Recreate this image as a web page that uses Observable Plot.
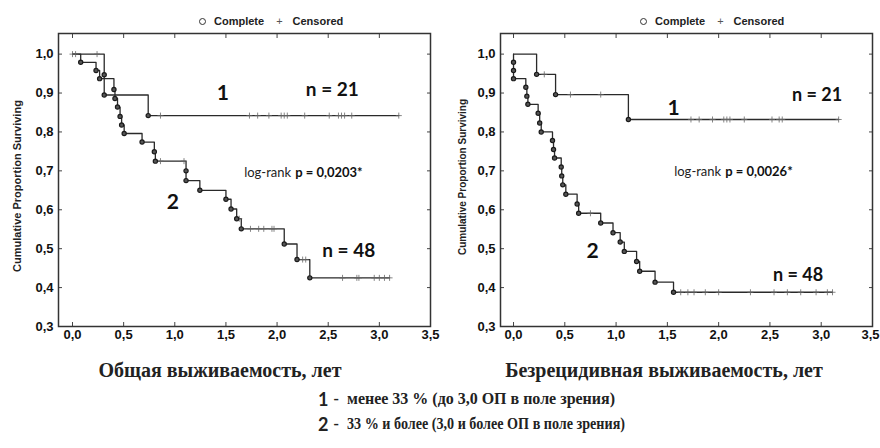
<!DOCTYPE html>
<html><head><meta charset="utf-8">
<script src="https://cdn.jsdelivr.net/npm/d3@7"></script>
<script src="https://cdn.jsdelivr.net/npm/@observablehq/plot@0.6"></script>
<style>
body{margin:0;background:#fff;}
#wrap{position:relative;width:880px;height:448px;overflow:hidden;font-family:"Liberation Sans",Arial,sans-serif;color:#222;}
.abs{position:absolute;white-space:nowrap;}
.panel{position:absolute;top:0;}
.ylab{font-weight:bold;transform:translate(-50%,-50%) rotate(-90deg);}
.xlab{font-family:"Liberation Serif","Times New Roman",serif;font-weight:bold;font-size:20px;transform:translate(-50%,-50%);}
.leg{font-size:11px;font-weight:bold;transform:translateY(-50%);display:flex;align-items:center;}
.circ{display:inline-block;width:5px;height:5px;border:1.2px solid #333;border-radius:50%;margin-right:8px;}
.plus{display:inline-block;margin:0 10px 0 12px;font-weight:normal;color:#555;}
.note{transform:translateY(-50%);display:flex;align-items:center;}
.note b{font-family:Lato,"Liberation Sans",sans-serif;font-size:18px;font-weight:bold;}
.note .dash{font-family:"Liberation Serif",serif;font-weight:bold;font-size:16px;margin:0 8px 0 5px;}
.note .desc{font-family:"Liberation Serif","Times New Roman",serif;font-weight:bold;font-size:17px;display:inline-block;transform-origin:left center;}
</style></head><body><div id="wrap"></div><script>
// ---------- data ----------
const xTicks = [0, 0.5, 1, 1.5, 2, 2.5, 3, 3.5];
const yTicks = [0.3, 0.4, 0.5, 0.6, 0.7, 0.8, 0.9, 1.0];
const groupNames = ["1", "2"];

// Overall survival (left panel) — group 1 (n = 21)
const osG1Time   = [0.00, 0.03, 0.24, 0.31, 0.31, 0.74, 0.86, 1.73, 1.81, 1.92, 2.04, 2.07, 2.10, 2.27, 2.51, 2.60, 2.63, 2.66, 2.73, 3.19];
const osG1Surv   = [1.000, 1.000, 1.000, 0.947, 0.895, 0.842, 0.842, 0.842, 0.842, 0.842, 0.842, 0.842, 0.842, 0.842, 0.842, 0.842, 0.842, 0.842, 0.842, 0.842];
const osG1Status = [0, 0, 0, 1, 1, 1, 0, 0, 0, 0, 0, 0, 0, 0, 0, 0, 0, 0, 0, 0];
// Overall survival — group 2 (n = 48)
const osG2Time   = [0.08, 0.23, 0.265, 0.405, 0.415, 0.44, 0.465, 0.48, 0.505, 0.68, 0.80, 0.81, 0.86, 1.09, 1.11, 1.11, 1.245, 1.50, 1.55, 1.605, 1.63, 1.65, 1.74, 1.82, 1.87, 1.95, 1.97, 2.07, 2.195, 2.25, 2.28, 2.32, 2.64, 2.78, 2.80, 2.95, 3.00, 3.05, 3.10];
const osG2Surv   = [0.979, 0.958, 0.937, 0.909, 0.886, 0.864, 0.840, 0.818, 0.796, 0.774, 0.749, 0.725, 0.725, 0.725, 0.700, 0.675, 0.650, 0.627, 0.602, 0.577, 0.577, 0.551, 0.551, 0.551, 0.551, 0.551, 0.551, 0.512, 0.472, 0.472, 0.472, 0.425, 0.425, 0.425, 0.425, 0.425, 0.425, 0.425, 0.425];
const osG2Status = [1, 1, 1, 1, 1, 1, 1, 1, 1, 1, 1, 1, 0, 0, 1, 1, 1, 1, 1, 1, 0, 1, 0, 0, 0, 0, 0, 1, 1, 0, 0, 1, 0, 0, 0, 0, 0, 0, 0];

// Relapse-free survival (right panel) — group 1 (n = 21)
const rfsG1Time   = [0.225, 0.30, 0.41, 0.555, 0.85, 1.12, 1.73, 1.81, 1.94, 2.05, 2.08, 2.11, 2.25, 2.52, 2.59, 2.62, 3.17];
const rfsG1Surv   = [0.948, 0.948, 0.896, 0.896, 0.896, 0.832, 0.832, 0.832, 0.832, 0.832, 0.832, 0.832, 0.832, 0.832, 0.832, 0.832, 0.832];
const rfsG1Status = [1, 0, 1, 0, 0, 1, 0, 0, 0, 0, 0, 0, 0, 0, 0, 0, 0];
// Relapse-free survival — group 2 (n = 48)
const rfsG2Time   = [0.00, 0.00, 0.00, 0.12, 0.13, 0.14, 0.24, 0.255, 0.27, 0.38, 0.39, 0.40, 0.465, 0.47, 0.48, 0.51, 0.62, 0.635, 0.75, 0.85, 0.97, 1.04, 1.08, 1.20, 1.23, 1.38, 1.56, 1.63, 1.70, 1.76, 1.87, 2.00, 2.31, 2.54, 2.67, 2.80, 2.95, 3.06, 3.11];
const rfsG2Surv   = [0.979, 0.958, 0.937, 0.915, 0.892, 0.871, 0.848, 0.823, 0.800, 0.778, 0.755, 0.733, 0.710, 0.687, 0.664, 0.640, 0.615, 0.591, 0.591, 0.566, 0.541, 0.517, 0.493, 0.467, 0.442, 0.414, 0.388, 0.388, 0.388, 0.388, 0.388, 0.388, 0.388, 0.388, 0.388, 0.388, 0.388, 0.388, 0.388];
const rfsG2Status = [1, 1, 1, 1, 1, 1, 1, 1, 1, 1, 1, 1, 1, 1, 1, 1, 1, 1, 0, 1, 1, 1, 1, 1, 1, 1, 1, 0, 0, 0, 0, 0, 0, 0, 0, 0, 0, 0, 0];

const groupSizes = ["n = 21", "n = 48"];
const pValues = ["p = 0,0203*", "p = 0,0026*"];
const xTitles = ["Общая выживаемость, лет", "Безрецидивная выживаемость, лет"];
const yTitle = "Cumulative Proportion Surviving";
const legendItems = ["Complete", "Censored"];
const groupDescriptions = ["менее 33 % (до 3,0 ОП в поле зрения)", "33 % и более (3,0 и более ОП в поле зрения)"];

// ---------- helpers ----------
const fmt = d => d.toFixed(1).replace(".", ",");
function rows(time, surv, status, g) {
  return time.map((t, i) => ({t, s: surv[i], status: status[i], group: g}));
}
function panel(cfg) {
  const data = [...rows(...cfg.g1, "1"), ...rows(...cfg.g2, "2")];
  const lineData = groupNames.flatMap(g => [{t: 0, s: 1, group: g}, ...data.filter(d => d.group === g)]);
  const ann = cfg.ann;
  const tickText = {fontWeight: "bold", fontSize: 13, fill: "#111", label: null};
  const lastTick = xTicks[xTicks.length - 1];
  const xLabelMarks = cfg.fitLast
    ? [Plot.axisX(xTicks.slice(0, -1), {anchor: "bottom", tickSize: 0, tickPadding: 3, tickFormat: fmt, ...tickText}),
       Plot.axisX([lastTick], {anchor: "bottom", tickSize: 0, tickPadding: 3, tickFormat: fmt, textAnchor: "end", dx: 7, ...tickText})]
    : [Plot.axisX(xTicks, {anchor: "bottom", tickSize: 0, tickPadding: 3, tickFormat: fmt, ...tickText})];
  return Plot.plot({
    width: 440, height: 350,
    marginLeft: cfg.ml, marginRight: cfg.mr, marginTop: 33, marginBottom: 24,
    x: {domain: cfg.xdom, label: null},
    y: {domain: [0.3, 1.053], label: null},
    style: {fontFamily: "'Liberation Sans', Arial, sans-serif", background: "white", overflow: "visible", color: "#222"},
    marks: [
      ...xLabelMarks,
      Plot.axisX(xTicks, {anchor: "bottom", tickSize: -4, tickFormat: () => "", label: null, stroke: "#444"}),
      Plot.axisX(xTicks, {anchor: "top", tickSize: -4, tickFormat: () => "", label: null, stroke: "#444"}),
      Plot.axisY(yTicks, {anchor: "left", tickSize: 0, tickPadding: 5, tickFormat: fmt, ...tickText}),
      Plot.axisY(yTicks, {anchor: "left", tickSize: -4, tickFormat: () => "", label: null, stroke: "#444"}),
      Plot.axisY(yTicks, {anchor: "right", tickSize: -4, tickFormat: () => "", label: null, stroke: "#444"}),
      Plot.frame({stroke: "#333", strokeWidth: 1.5}),
      Plot.line(lineData, {x: "t", y: "s", z: "group", curve: "step-after", stroke: "#2a2a2a", strokeWidth: 1.3}),
      Plot.dot(data.filter(d => d.status === 0), {x: "t", y: "s", symbol: "plus", r: 2.1, stroke: "#666", strokeWidth: 0.8}),
      Plot.dot(data.filter(d => d.status === 1), {x: "t", y: "s", r: 2.1, stroke: "#1a1a1a", fill: "#555", strokeWidth: 1.2}),
      Plot.text([groupNames[0]], {x: ann.g1[0], y: ann.g1[1], text: d => d, fontFamily: "Lato, sans-serif", fontWeight: "bold", fontSize: 21, fill: "#111"}),
      Plot.text([groupNames[1]], {x: ann.g2[0], y: ann.g2[1], text: d => d, fontFamily: "Lato, sans-serif", fontWeight: "bold", fontSize: 21, fill: "#111"}),
      Plot.text([groupSizes[0]], {x: ann.n1[0], y: ann.n1[1], text: d => d, fontFamily: "Lato, sans-serif", fontWeight: "bold", fontSize: cfg.nSize, fill: "#111"}),
      Plot.text([groupSizes[1]], {x: ann.n2[0], y: ann.n2[1], text: d => d, fontFamily: "Lato, sans-serif", fontWeight: "bold", fontSize: cfg.nSize, fill: "#111"}),
      Plot.text(["log-rank"], {x: ann.p[0], y: ann.p[1], text: d => d, textAnchor: "end", dx: -2, fontFamily: "Lato, sans-serif", fontSize: 13, fill: "#222"}),
      Plot.text([cfg.p], {x: ann.p[0], y: ann.p[1], text: d => d, textAnchor: "start", dx: 2, fontFamily: "Lato, sans-serif", fontWeight: "bold", fontSize: 13, fill: "#111"})
    ]
  });
}

const wrap = document.getElementById("wrap");
const left = panel({
  g1: [osG1Time, osG1Surv, osG1Status], g2: [osG2Time, osG2Surv, osG2Status],
  ml: 58, mr: 10, xdom: [-0.137, 3.5], p: pValues[0], nSize: 19, fitLast: false,
  ann: {g1: [1.47, 0.899], g2: [0.98, 0.619], n1: [2.54, 0.907], n2: [2.70, 0.493], p: [2.157, 0.696]}
});
const right = panel({
  g1: [rfsG1Time, rfsG1Surv, rfsG1Status], g2: [rfsG2Time, rfsG2Surv, rfsG2Status],
  ml: 60, mr: 8, xdom: [-0.127, 3.5], p: pValues[1], nSize: 18, fitLast: true,
  ann: {g1: [1.56, 0.860], g2: [0.77, 0.493], n1: [2.96, 0.894], n2: [2.775, 0.431], p: [2.044, 0.698]}
});
left.classList.add("panel"); left.style.left = "0px";
right.classList.add("panel"); right.style.left = "440px";
wrap.appendChild(left); wrap.appendChild(right);

function addDiv(cls, x, y, html, extra) {
  const d = document.createElement("div");
  d.className = "abs " + cls;
  d.style.left = x + "px"; d.style.top = y + "px";
  d.innerHTML = html;
  if (extra) Object.assign(d.style, extra);
  wrap.appendChild(d);
  return d;
}
// y-axis titles
addDiv("ylab", 17, 186, yTitle, {fontSize: "11px"});
addDiv("ylab", 462, 177, yTitle, {fontSize: "10px"});
// x-axis titles
addDiv("xlab", 220, 370, xTitles[0]);
addDiv("xlab", 664, 370, xTitles[1]);
// top legends
const legHtml = `<span class="circ"></span>${legendItems[0]}<span class="plus">+</span>${legendItems[1]}`;
addDiv("leg", 199, 21, legHtml);
addDiv("leg", 640, 21, legHtml);
// bottom group legend (condensed serif text fitted to the original's line widths)
const noteWidths = [268, 278];
[399, 424].forEach((y, i) => {
  const d = addDiv("note", 318, y, `<b>${groupNames[i]}</b><span class="dash">-</span><span class="desc">${groupDescriptions[i]}</span>`);
  const desc = d.querySelector(".desc");
  const w = desc.getBoundingClientRect().width;
  desc.style.transform = `scaleX(${noteWidths[i] / w})`;
});
</script></body></html>
